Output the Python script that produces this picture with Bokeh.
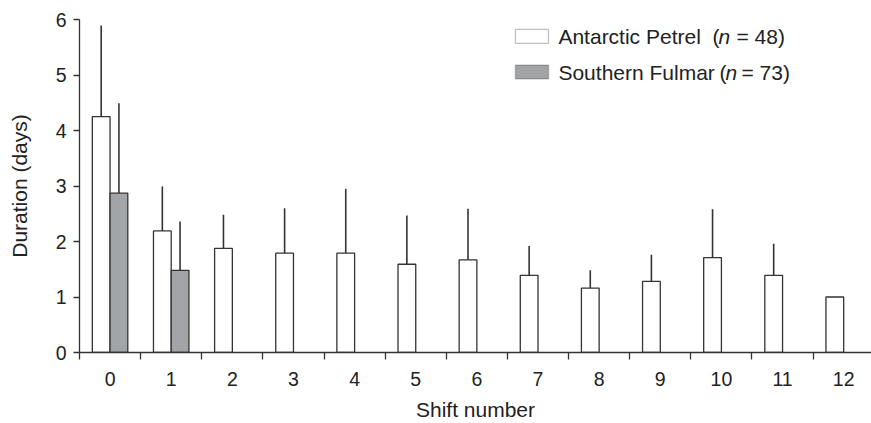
from bokeh.plotting import figure
from bokeh.models import FixedTicker, Range1d, Label, BoxAnnotation, ColumnDataSource
from bokeh.embed import file_html
from bokeh.resources import INLINE

# ---- data ----
shifts = list(range(13))
tick_labels = [str(s) for s in shifts]
petrel_mean = [4.25, 2.19, 1.875, 1.79, 1.79, 1.59, 1.67, 1.39, 1.16, 1.28, 1.71, 1.39, 1.0]
petrel_upper = [5.89, 2.99, 2.48, 2.60, 2.95, 2.47, 2.59, 1.92, 1.48, 1.76, 2.58, 1.96, 1.0]
fulmar_shifts = [0, 1]
fulmar_mean = [2.87, 1.48]
fulmar_upper = [4.49, 2.36]
petrel_label = ("Antarctic Petrel", "(", "n", "= 48)")
fulmar_label = ("Southern Fulmar", "(", "n", "= 73)")

FONT = "Liberation Sans"
INK = "#333333"
TXT = "#222222"
GRAY = "#a2a5a8"
BW = 0.29

p = figure(width=871, height=423, output_backend="svg", toolbar_location=None,
           x_range=Range1d(-0.5, 12.455), y_range=Range1d(0, 6),
           min_border_left=79, min_border_right=0, min_border_top=19, min_border_bottom=68)
p.grid.visible = False
p.outline_line_color = None
p.background_fill_color = "white"
p.border_fill_color = "white"

src_p = ColumnDataSource(dict(x=[s - BW / 2 for s in shifts], top=petrel_mean, up=petrel_upper))
src_f = ColumnDataSource(dict(x=[s + BW / 2 for s in fulmar_shifts], top=fulmar_mean, up=fulmar_upper))

p.segment(x0="x", y0="top", x1="x", y1="up", source=src_p, line_color=INK, line_width=1.6)
p.segment(x0="x", y0="top", x1="x", y1="up", source=src_f, line_color=INK, line_width=1.6)
p.vbar(x="x", top="top", bottom=0, width=BW, source=src_p, fill_color="white",
       line_color=INK, line_width=1.3)
p.vbar(x="x", top="top", bottom=0, width=BW, source=src_f, fill_color=GRAY,
       line_color=INK, line_width=1.3)

# x axis
xa = p.xaxis[0]
xa.ticker = FixedTicker(ticks=shifts, minor_ticks=[s - 0.5 for s in shifts] + [12.5])
xa.major_label_overrides = {s: l for s, l in zip(shifts, tick_labels)}
xa.major_tick_out = 0
xa.major_tick_in = 0
xa.minor_tick_out = 7
xa.minor_tick_in = 0
xa.minor_tick_line_color = INK
xa.minor_tick_line_width = 1.3
xa.axis_line_color = INK
xa.axis_line_width = 1.3
xa.major_label_standoff = 12
xa.major_label_text_font = FONT
xa.major_label_text_font_size = "19.5px"
xa.major_label_text_color = TXT
xa.axis_label = "Shift number"
xa.axis_label_text_font = FONT
xa.axis_label_text_font_size = "21px"
xa.axis_label_text_font_style = "normal"
xa.axis_label_text_color = TXT
xa.axis_label_standoff = 9

# y axis
ya = p.yaxis[0]
ya.ticker = FixedTicker(ticks=[0, 1, 2, 3, 4, 5, 6])
ya.minor_tick_line_color = None
ya.major_tick_out = 6
ya.major_tick_in = 0
ya.major_tick_line_color = INK
ya.major_tick_line_width = 1.3
ya.axis_line_color = INK
ya.axis_line_width = 1.3
ya.major_label_standoff = 7
ya.major_label_text_font = FONT
ya.major_label_text_font_size = "19.5px"
ya.major_label_text_color = TXT
ya.axis_label = "Duration (days)"
ya.axis_label_text_font = FONT
ya.axis_label_text_font_size = "21px"
ya.axis_label_text_font_style = "normal"
ya.axis_label_text_color = TXT
ya.axis_label_standoff = 22

# legend (manual, to allow italic n); placed in data units of the frame
def legend_row(box_top, box_bottom, text_y, fill, parts, xs):
    p.add_layout(BoxAnnotation(left=6.631, right=7.171, top=box_top, bottom=box_bottom,
                               fill_color=fill, fill_alpha=1.0, line_color=INK, line_width=1.3,
                               level="overlay"))
    for txt, x, style in zip(parts, xs, ["normal", "normal", "italic", "normal"]):
        p.add_layout(Label(x=x, y=text_y, text=txt,
                           text_font=FONT, text_font_size="21px", text_font_style=style,
                           text_color=TXT, text_baseline="middle", text_align="left"))

legend_row(5.821, 5.571, 5.69, "white", petrel_label, [7.334, 9.853, 9.951, 10.246])
legend_row(5.179, 4.929, 5.05, GRAY, fulmar_label, [7.334, 9.967, 10.066, 10.328])

open("out.html", "w").write(file_html(p, INLINE))
